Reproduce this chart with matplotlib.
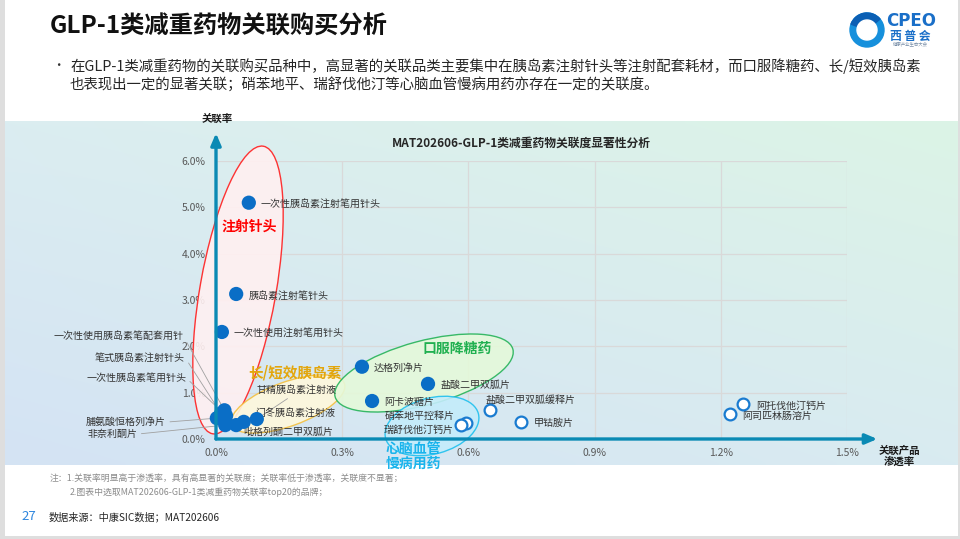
import numpy as np
import matplotlib
matplotlib.use('Agg')
import matplotlib.pyplot as plt
from matplotlib.patches import Ellipse, Rectangle, Wedge, Circle
from matplotlib.transforms import Affine2D
from matplotlib.colors import to_rgb

plt.rcParams['font.family'] = ['Noto Sans CJK SC', 'DejaVu Sans']
plt.rcParams['axes.unicode_minus'] = False

# ---------------- data ----------------
products = [
    '一次性胰岛素注射笔用针头', '胰岛素注射笔针头', '一次性使用注射笔用针头',
    '达格列净片', '盐酸二甲双胍片', '阿卡波糖片',
    '硝苯地平控释片', '瑞舒伐他汀钙片', '盐酸二甲双胍缓释片', '甲钴胺片',
    '阿托伐他汀钙片', '阿司匹林肠溶片',
    '甘精胰岛素注射液', '门冬胰岛素注射液', '吡格列酮二甲双胍片',
    '一次性使用胰岛素笔配套用针', '笔式胰岛素注射针头', '一次性胰岛素笔用针头',
    '脯氨酸恒格列净片', '非奈利酮片',
]
penetration = [0.078, 0.048, 0.014,
               0.347, 0.504, 0.371,
               0.594, 0.582, 0.651, 0.724,
               1.252, 1.223,
               0.097, 0.066, 0.048,
               0.020, 0.012, 0.024,
               0.002, 0.022]          # 关联产品渗透率 (%)
association = [5.10, 3.13, 2.31,
               1.56, 1.19, 0.82,
               0.35, 0.30, 0.63, 0.37,
               0.76, 0.54,
               0.43, 0.37, 0.30,
               0.62, 0.55, 0.50,
               0.45, 0.30]            # 关联率 (%)
significant = [True, True, True,
               True, True, True,
               False, False, False, False,
               False, False,
               True, True, True,
               True, True, True,
               True, True]
x_ticks = [0.0, 0.3, 0.6, 0.9, 1.2, 1.5]
y_ticks = [0.0, 1.0, 2.0, 3.0, 4.0, 5.0, 6.0]
x_tick_labels = ['0.0%', '0.3%', '0.6%', '0.9%', '1.2%', '1.5%']
y_tick_labels = ['0.0%', '1.0%', '2.0%', '3.0%', '4.0%', '5.0%', '6.0%']

# ---------------- layout (label offsets in pixels) ----------------
label_layout = {
    '一次性胰岛素注射笔用针头': (12, -1, 'left', None),
    '胰岛素注射笔针头': (12, -2, 'left', None),
    '一次性使用注射笔用针头': (12, -1, 'left', None),
    '达格列净片': (12, -1, 'left', None),
    '盐酸二甲双胍片': (12, -1, 'left', None),
    '阿卡波糖片': (12, -1, 'left', None),
    '硝苯地平控释片': (-11, 7, 'right', None),
    '瑞舒伐他汀钙片': (-7, -5, 'right', None),
    '盐酸二甲双胍缓释片': (-4, 10, 'left', None),
    '甲钴胺片': (13, -1, 'left', None),
    '阿托伐他汀钙片': (13, -2, 'left', None),
    '阿司匹林肠溶片': (12, -2, 'left', None),
    '甘精胰岛素注射液': (0, 29, 'left', (0.45, 0.0)),
    '门冬胰岛素注射液': (11, 9, 'left', (0.0, 0.3)),
    '吡格列酮二甲双胍片': (7, -7, 'left', None),
    '一次性使用胰岛素笔配套用针': (-41, 74, 'right', (1.0, 0.5)),
    '笔式胰岛素注射针头': (-36, 56, 'right', (1.0, 0.5)),
    '一次性胰岛素笔用针头': (-40, 38, 'right', (1.0, 0.5)),
    '脯氨酸恒格列净片': (-51, -4, 'right', (1.0, 0.5)),
    '非奈利酮片': (-88, -9, 'right', (1.0, 0.5)),
}

W, H = 960, 539
fig = plt.figure(figsize=(W / 100, H / 100), dpi=100)
fig.patch.set_facecolor('white')
# transform: reference-image pixels (y down) -> display
pix = Affine2D().scale(1 / W, -1 / H).translate(0, 1) + fig.transFigure

# ---------------- background ----------------
bg = fig.add_axes([0, 0, 1, 1], zorder=-5)
bg.set_xlim(0, W)
bg.set_ylim(H, 0)
bg.axis('off')
tl, tr = np.array(to_rgb('#dbedf1')), np.array(to_rgb('#dcf4e6'))
bl, br = np.array(to_rgb('#d4e3f4')), np.array(to_rgb('#d9ebf1'))
u = np.linspace(0, 1, 200)[None, :, None]
v = np.linspace(0, 1, 80)[:, None, None]
grad = (1 - v) * ((1 - u) * tl + u * tr) + v * ((1 - u) * bl + u * br)
bg.imshow(grad, extent=[5, 958, 465, 121], aspect='auto', interpolation='bilinear')
bg.add_patch(Rectangle((0, 0), 4.5, H, color='#dedede', lw=0))
bg.add_patch(Rectangle((957.5, 0), 3, H, color='#dedede', lw=0))
bg.add_patch(Rectangle((0, 535.5), W, 4, color='#dedede', lw=0))

# ---------------- main axes ----------------
ax = fig.add_axes([216 / W, 1 - 439 / H, 631 / W, 278 / H])
ax.set_facecolor('none')
ax.set_xlim(0, 1.5)
ax.set_ylim(0, 6)
ax.set_xticks(x_ticks)
ax.set_xticklabels(x_tick_labels)
ax.set_yticks(y_ticks)
ax.set_yticklabels(y_tick_labels)
ax.tick_params(length=0, labelsize=7.5, labelcolor='#595959')
ax.tick_params(axis='y', pad=7.5)
ax.tick_params(axis='x', pad=6.5)
for s in ax.spines.values():
    s.set_visible(False)
ax.grid(True, color='#d9d9d9', lw=0.9, zorder=0.5)
ax.set_axisbelow(True)

# group ellipses (decorations, pixel space)
groups = [
    # center, width, height, angle, face, edge
    ((238, 290), 292, 76, -80, '#fff0f1', '#ff1f1f'),
    ((288, 404), 120, 44, -20, '#fff8dc', '#f4c040'),
    ((424, 373), 184, 64, -15, '#e5f9da', '#26b35a'),
    ((432, 426), 96, 56, -15, '#c4ecfb', '#1fc0ee'),
]
for c, w, h, ang, fc, ec in groups:
    ax.add_patch(Ellipse(c, w, h, angle=ang, transform=pix, facecolor=fc,
                         edgecolor=ec, lw=1.0, alpha=0.9, clip_on=False, zorder=1.5))

# axis arrows
axis_col = '#0a8ab4'
ax.annotate('', xy=(0, 1.10), xytext=(0, 0), xycoords='axes fraction',
            arrowprops=dict(arrowstyle='-|>,head_length=0.7,head_width=0.3',
                            color=axis_col, lw=2.4, shrinkA=0, shrinkB=0), zorder=5)
ax.annotate('', xy=(1.048, 0), xytext=(0, 0), xycoords='axes fraction',
            arrowprops=dict(arrowstyle='-|>,head_length=0.7,head_width=0.3',
                            color=axis_col, lw=2.4, shrinkA=0, shrinkB=0), zorder=5)

# scatter points
px = np.array(penetration)
py = np.array(association)
sig = np.array(significant)
ax.scatter(px[sig], py[sig], s=105, color='#0a6ec6', edgecolors='none',
           zorder=4, clip_on=False)
ax.scatter(px[~sig], py[~sig], s=72, facecolors='white', edgecolors='#1a7bd0',
           linewidths=1.6, zorder=4, clip_on=False)

# point labels
for name, xv, yv in zip(products, penetration, association):
    dx, dy, ha, rel = label_layout[name]
    kw = {}
    if rel is not None:
        kw['arrowprops'] = dict(arrowstyle='-', color='#a0a0a0', lw=0.6,
                                shrinkA=1, shrinkB=0, relpos=rel)
    ax.annotate(name, xy=(xv, yv), xytext=(dx, dy), textcoords='offset pixels',
                ha=ha, va='center', fontsize=7.2, color='#333333', zorder=3,
                annotation_clip=False, **kw)

# group labels
ax.text(249, 227, '注射针头', transform=pix, ha='center', va='center', fontsize=10,
        weight='bold', color='#ff0000', zorder=6)
ax.text(295, 372, '长/短效胰岛素', transform=pix, ha='center', va='center', fontsize=10.5,
        weight='bold', color='#e3a60c', zorder=6)
ax.text(457, 349, '口服降糖药', transform=pix, ha='center', va='center', fontsize=10,
        weight='bold', color='#20b050', zorder=6)
ax.text(413, 456, '心脑血管\n慢病用药', transform=pix, ha='center', va='center', fontsize=10,
        weight='bold', color='#1ab4ec', linespacing=1.05, zorder=6)

# axis titles & chart title
fig.text(217, 119, '关联率', transform=pix, ha='center', va='center', fontsize=7.5,
         weight='bold', color='#1a1a1a')
fig.text(899, 456, '关联产品\n渗透率', transform=pix, ha='center', va='center', fontsize=7.5,
         weight='bold', color='#1a1a1a', linespacing=1.0)
fig.text(521, 143, 'MAT202606-GLP-1类减重药物关联度显著性分析', transform=pix,
         ha='center', va='center', fontsize=8.5, weight='bold', color='#262626')

# ---------------- header ----------------
fig.text(50, 27, 'GLP-1类减重药物关联购买分析', transform=pix, ha='left', va='center',
         fontsize=17.5, weight='bold', color='#111111')
fig.text(58, 66, '•', transform=pix, ha='center', va='center', fontsize=9, color='#333333')
fig.text(70, 66, '在GLP-1类减重药物的关联购买品种中，高显著的关联品类主要集中在胰岛素注射针头等注射配套耗材，而口服降糖药、长/短效胰岛素',
         transform=pix, ha='left', va='center', fontsize=10.4, color='#262626')
fig.text(70, 84, '也表现出一定的显著关联；硝苯地平、瑞舒伐他汀等心脑血管慢病用药亦存在一定的关联度。',
         transform=pix, ha='left', va='center', fontsize=10.4, color='#262626')

# logo
lg = fig.add_axes([0, 0, 1, 1], zorder=-4)
lg.set_xlim(0, W)
lg.set_ylim(H, 0)
lg.axis('off')
lg.add_patch(Wedge((867, 30), 17, 0, 360, width=7, color='#1690dc'))
lg.add_patch(Wedge((867, 30), 17, 200, 320, width=7, color='#0b5fb4'))
lg.add_patch(Circle((867, 30), 10, color='white'))
fig.text(911, 21, 'CPEO', transform=pix, ha='center', va='center', fontsize=12,
         weight='bold', color='#1a6fc8', family=['DejaVu Sans'])
fig.text(910, 36, '西 普 会', transform=pix, ha='center', va='center', fontsize=8.5,
         weight='bold', color='#1a6fc8')
fig.text(910, 45, '健康产业生态大会', transform=pix, ha='center', va='center', fontsize=3.2,
         color='#7a8fa8')

# ---------------- footer ----------------
fig.text(50, 478, '注：1.关联率明显高于渗透率，具有高显著的关联度；关联率低于渗透率，关联度不显著；',
         transform=pix, ha='left', va='center', fontsize=6.4, color='#8c8c8c', style='italic')
fig.text(70, 492, '2.图表中选取MAT202606-GLP-1类减重药物关联率top20的品牌；',
         transform=pix, ha='left', va='center', fontsize=6.4, color='#8c8c8c', style='italic')
fig.text(29, 517, '27', transform=pix, ha='center', va='center', fontsize=9.5, color='#2e86de')
fig.text(49, 517, '数据来源：中康SIC数据；MAT202606', transform=pix, ha='left', va='center',
         fontsize=7.3, color='#262626')

fig.savefig('out.png', dpi=100, facecolor='white')
